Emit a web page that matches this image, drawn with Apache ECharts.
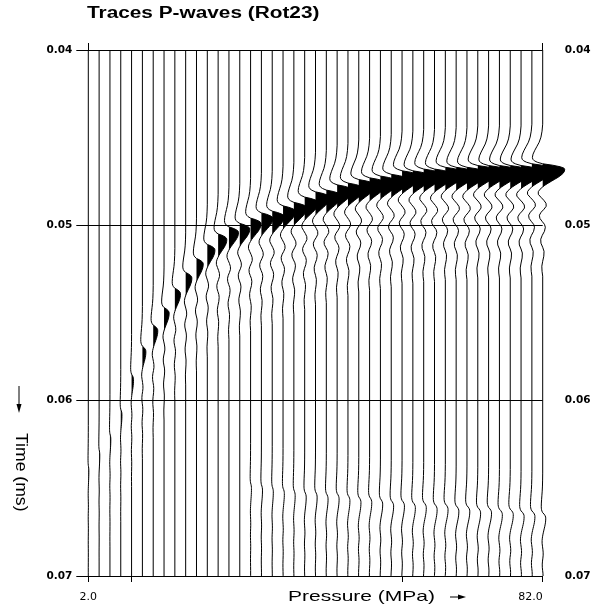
<!DOCTYPE html>
<html><head><meta charset="utf-8">
<script src="https://cdn.jsdelivr.net/npm/echarts@6/dist/echarts.min.js"></script>
<style>html,body{margin:0;padding:0;background:#fff}#c{width:601px;height:604px}</style>
</head><body><div id="c"></div>
<script>
// ---- data ----
const traceIndex = [0,1,2,3,4,5,6,7,8,9,10,11,12,13,14,15,16,17,18,19,20,21,22,23,24,25,26,27,28,29,30,31,32,33,34,35,36,37,38,39,40,41,42];
const labelTraces = [0, 42];
const labelTexts = ['2.0', '82.0'];
const bottomTickTraces = [0, 4, 29, 42];
const topTickTraces = [0, 42];
const timeTicks = [0.04, 0.05, 0.06, 0.07];
// arrival time of the main (filled) lobe of each trace
const peakTime = [0.0640,0.0631,0.0622,0.0608,0.0588,0.0572,0.0560,0.0550,0.0539,0.0530,0.0522,0.0514,0.0508,0.0504,0.0502,0.0499,0.0496,0.0495,0.0492,0.0490,0.0487,0.0484,0.0483,0.0480,0.0479,0.0477,0.0476,0.0475,0.0474,0.0472,0.0472,0.0471,0.0471,0.0470,0.0470,0.0470,0.0469,0.0469,0.0469,0.0469,0.0469,0.0468,0.0468];
// peak amplitude of the main lobe, in trace spacings
const peakAmp = [0.05,0.06,0.08,0.11,0.18,0.32,0.42,0.47,0.52,0.57,0.62,0.70,0.80,0.88,0.92,0.97,1.05,1.10,1.15,1.22,1.28,1.33,1.40,1.45,1.50,1.56,1.60,1.64,1.67,1.70,1.73,1.76,1.79,1.82,1.84,1.87,1.90,1.92,1.94,1.96,1.98,2.00,2.03];
// weak late arrival near the bottom of the section
const lateTime = [0.0655,0.0655,0.0655,0.0655,0.0655,0.0655,0.0655,0.0655,0.0655,0.0655,0.0655,0.0655,0.0655,0.0655,0.0655,0.0650,0.0651,0.0652,0.0653,0.0654,0.0655,0.0655,0.0656,0.0656,0.0657,0.0658,0.0658,0.0659,0.0660,0.0660,0.0661,0.0661,0.0662,0.0662,0.0663,0.0663,0.0664,0.0664,0.0665,0.0665,0.0666,0.0666,0.0667];
const lateAmp = [0,0,0,0,0,0,0,0,0,0,0,0,0,0,0,0.08,0.10,0.10,0.12,0.12,0.14,0.15,0.16,0.18,0.18,0.20,0.20,0.21,0.22,0.22,0.23,0.24,0.24,0.25,0.25,0.26,0.26,0.27,0.27,0.28,0.28,0.28,0.28];
// wavelet shape (lag in units of 0.001, value relative to peak)
const waveletLag = [-2.57,-2.17,-1.83,-1.54,-1.31,-1.08,-0.86,-0.68,-0.57,-0.48,-0.40,-0.31,-0.23,-0.14,-0.06,0,0.11,0.23,0.34,0.46,0.57,0.68,0.80,0.91,1.03,1.14,1.28,1.43,1.60,1.77,1.94,2.11,2.28,2.45,2.62,2.80,2.97,3.14,3.31,3.54,3.77,3.99,4.22,4.45,4.68,4.96,5.25,5.53,5.82,6.10];
const waveletShape = [0,-0.03,-0.08,-0.16,-0.26,-0.36,-0.44,-0.47,-0.45,-0.38,-0.25,0,0.45,0.80,0.97,1,0.99,0.93,0.83,0.70,0.55,0.40,0.24,0.10,-0.02,-0.12,-0.20,-0.20,-0.08,0.05,0.15,0.16,0.06,-0.07,-0.15,-0.13,-0.03,0.08,0.12,0.08,-0.02,-0.09,-0.08,0,0.06,0.05,0,-0.04,-0.03,0];

// ---- helpers ----
function wavelet(lag) {
  const l = lag * 1000;
  const n = waveletLag.length;
  if (l <= waveletLag[0] || l >= waveletLag[n - 1]) return 0;
  for (let k = 1; k < n; k++) {
    if (l <= waveletLag[k]) {
      const f = (l - waveletLag[k - 1]) / (waveletLag[k] - waveletLag[k - 1]);
      return waveletShape[k - 1] + f * (waveletShape[k] - waveletShape[k - 1]);
    }
  }
  return 0;
}
function traceValue(i, t) {
  return peakAmp[i] * wavelet(t - peakTime[i]) + lateAmp[i] * wavelet(t - lateTime[i]);
}
function sampleTimes(i) {
  const tmin = timeTicks[0], tmax = timeTicks[timeTicks.length - 1];
  let arr = [tmin, tmax];
  waveletLag.forEach(l => {
    arr.push(peakTime[i] + l / 1000);
    if (lateAmp[i] > 0) arr.push(lateTime[i] + l / 1000);
  });
  arr = arr.filter(t => t >= tmin && t <= tmax).sort((a, b) => a - b);
  const out = [];
  arr.forEach(t => { if (!out.length || t - out[out.length - 1] > 1e-9) out.push(t); });
  return out;
}

const chart = echarts.init(document.getElementById('c'), null, {renderer: 'canvas'});
const yLabelStyle = {color: '#000', fontFamily: 'DejaVu Sans', fontWeight: 'bold', fontSize: 10.5};

chart.setOption({
  animation: false,
  backgroundColor: '#fff',
  grid: {left: 88.3, right: 58.3, top: 50, bottom: 28},
  xAxis: [{
    type: 'value', min: 0, max: 42, position: 'bottom',
    axisLine: {show: false},
    splitLine: {show: false},
    axisTick: {show: true, length: 6, customValues: bottomTickTraces, lineStyle: {color: '#000', width: 1}},
    axisLabel: {show: true, customValues: labelTraces, margin: 16, color: '#000', fontFamily: 'DejaVu Sans', fontSize: 11,
      alignMinLabel: 'center', alignMaxLabel: 'right',
      formatter: v => { const k = labelTraces.indexOf(Math.round(v)); return k >= 0 ? labelTexts[k] : ''; }}
  }, {
    type: 'value', min: 0, max: 42, position: 'top',
    axisLine: {show: false}, splitLine: {show: false}, axisLabel: {show: false},
    axisTick: {show: true, length: 7, customValues: topTickTraces, lineStyle: {color: '#000', width: 1}}
  }],
  yAxis: [{
    type: 'value', inverse: true, min: 0.04, max: 0.07, interval: 0.01, position: 'left',
    axisLine: {show: false},
    axisTick: {show: true, length: 12, lineStyle: {color: '#000', width: 1}},
    splitLine: {show: true, lineStyle: {color: '#000', width: 1}},
    axisLabel: Object.assign({margin: 16, formatter: v => v.toFixed(2)}, yLabelStyle)
  }, {
    type: 'value', inverse: true, min: 0.04, max: 0.07, interval: 0.01, position: 'right',
    axisLine: {show: false},
    axisTick: {show: true, length: 13, lineStyle: {color: '#000', width: 1}},
    splitLine: {show: false},
    axisLabel: Object.assign({margin: 22, formatter: v => v.toFixed(2)}, yLabelStyle)
  }],
  series: [{
    type: 'custom',
    silent: true,
    clip: false,
    xAxisIndex: 0, yAxisIndex: 0,
    data: traceIndex.map(i => [i, peakTime[i]]),
    renderItem: function (params, api) {
      const i = api.value(0);
      const ts = sampleTimes(i);
      const vals = ts.map(t => traceValue(i, t));
      const pts = ts.map((t, k) => api.coord([i + vals[k], t]));
      // main positive lobe, filled
      let k0 = 0, best = Infinity;
      ts.forEach((t, k) => { const d = Math.abs(t - peakTime[i]); if (d < best) { best = d; k0 = k; } });
      const children = [];
      if (vals[k0] > 0) {
        let a = k0, b = k0;
        while (a > 0 && vals[a - 1] > 0) a--;
        while (b < ts.length - 1 && vals[b + 1] > 0) b++;
        const poly = [];
        if (a > 0) {
          const t = ts[a - 1] + (ts[a] - ts[a - 1]) * (-vals[a - 1]) / (vals[a] - vals[a - 1]);
          poly.push(api.coord([i, t]));
        } else poly.push(api.coord([i, ts[a]]));
        for (let k = a; k <= b; k++) poly.push(pts[k]);
        if (b < ts.length - 1) {
          const t = ts[b] + (ts[b + 1] - ts[b]) * (vals[b]) / (vals[b] - vals[b + 1]);
          poly.push(api.coord([i, t]));
        } else poly.push(api.coord([i, ts[b]]));
        children.push({type: 'polygon', shape: {points: poly}, style: {fill: '#000', stroke: null}});
      }
      children.push({type: 'polyline', shape: {points: pts}, style: {stroke: '#000', lineWidth: 1, fill: null}});
      return {type: 'group', children: children};
    }
  }],
  graphic: [
    {type: 'text', x: 87, y: 13.5, scaleX: 1.3, style: {text: 'Traces P-waves (Rot23)', font: 'bold 16px "Liberation Sans"', fill: '#000', verticalAlign: 'middle', align: 'left'}},
    {type: 'text', x: 288, y: 597, scaleX: 1.4, style: {text: 'Pressure (MPa)', font: '15px "Liberation Sans"', fill: '#000', verticalAlign: 'middle', align: 'left'}},
    {type: 'line', shape: {x1: 450, y1: 597, x2: 460, y2: 597}, style: {stroke: '#000', lineWidth: 1}},
    {type: 'polygon', shape: {points: [[458, 594.5], [466, 597], [458, 599.5]]}, style: {fill: '#000'}},
    {type: 'text', x: 20.5, y: 433, rotation: -Math.PI / 2, scaleX: 1.1, style: {text: 'Time (ms)', font: '16px "Liberation Sans"', fill: '#000', verticalAlign: 'middle', align: 'left'}},
    {type: 'line', shape: {x1: 19, y1: 386, x2: 19, y2: 406}, style: {stroke: '#000', lineWidth: 1}},
    {type: 'polygon', shape: {points: [[16.5, 404], [19, 413], [21.5, 404]]}, style: {fill: '#000'}}
  ]
});
</script>
</body></html>
